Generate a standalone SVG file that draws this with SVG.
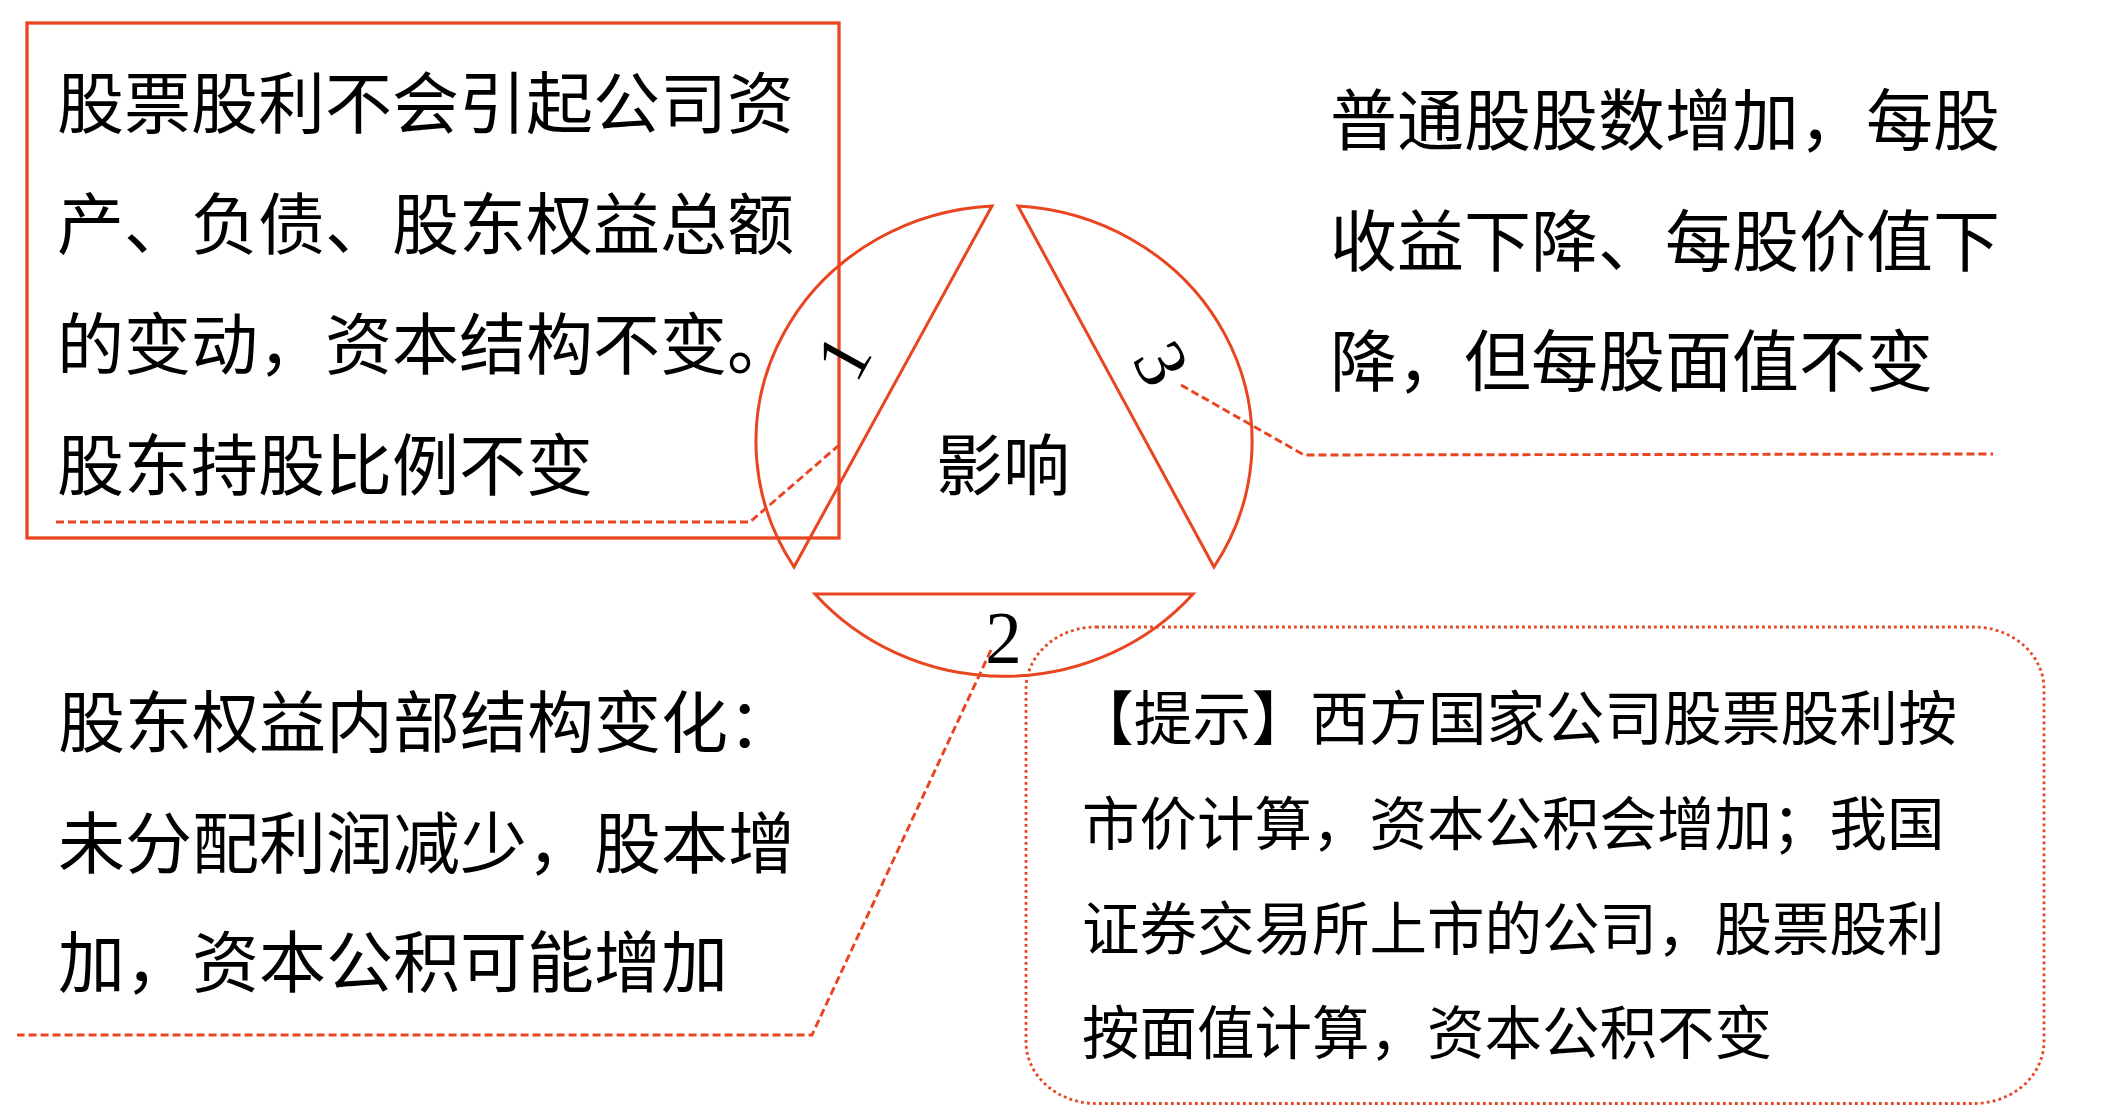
<svg xmlns="http://www.w3.org/2000/svg" width="2102" height="1116" viewBox="0 0 2102 1116">
  <style>
    .cn { font-family: "Noto Sans CJK SC", "Noto Sans", sans-serif; font-size: 67px; fill: #000; }
    .hint { font-family: "Noto Sans CJK SC", "Noto Sans", sans-serif; font-size: 57.5px; fill: #000; }
    .num { font-family: "Liberation Serif", "Times New Roman", serif; font-size: 73px; fill: #000; text-anchor: middle; }
    .seg { fill: none; stroke: #E84520; stroke-width: 3; stroke-linejoin: miter; }
    .box { fill: none; stroke: #E84520; stroke-width: 3.3; }
    .dash { fill: none; stroke: #E84520; stroke-width: 2.9; stroke-dasharray: 8 4; }
    .dot { fill: none; stroke: #E84520; stroke-width: 2.8; stroke-dasharray: 2.8 3.2; }
  </style>
  <rect width="2102" height="1116" fill="#ffffff"/>

  <g id="node-no-change">
    <rect class="box" x="27" y="23" width="812" height="515"/>
    <text class="cn" x="57" y="128">股票股利不会引起公司资</text>
    <text class="cn" x="57" y="248.5">产、负债、股东权益总额</text>
    <text class="cn" x="57" y="369">的变动，资本结构不变。</text>
    <text class="cn" x="57" y="489.5">股东持股比例不变</text>
  </g>

  <g id="node-impact">
    <text class="cn" x="1003" y="490" text-anchor="middle">影响</text>
  </g>

  <g id="segment-1">
    <path class="seg" d="M992,206 L794,567 A249,236 0 0 1 992,206 Z"/>
    <text class="num" transform="translate(843,357) rotate(-61)" x="0" y="25">1</text>
  </g>

  <g id="segment-2">
    <path class="seg" d="M815,594 L1193,594 A249,236 0 0 1 815,594 Z"/>
    <text class="num" x="1003.5" y="663">2</text>
  </g>

  <g id="segment-3">
    <path class="seg" d="M1018,206 L1214,567 A249,236 0 0 0 1018,206 Z"/>
    <text class="num" transform="translate(1162,363) rotate(61)" x="0" y="25">3</text>
  </g>

  <g id="node-per-share">
    <text class="cn" x="1330" y="145">普通股股数增加，每股</text>
    <text class="cn" x="1330" y="266">收益下降、每股价值下</text>
    <text class="cn" x="1330" y="386">降，但每股面值不变</text>
  </g>

  <g id="node-equity-structure">
    <text class="cn" x="58" y="747">股东权益内部结构变化：</text>
    <text class="cn" x="58" y="868">未分配利润减少，股本增</text>
    <text class="cn" x="58" y="987">加，资本公积可能增加</text>
  </g>

  <g id="node-hint">
    <rect class="dot" x="1026" y="627" width="1018" height="476.5" rx="70" ry="62"/>
    <text class="hint" x="1075" y="740" style="font-size:58.8px">【提示】西方国家公司股票股利按</text>
    <text class="hint" x="1082" y="845">市价计算，资本公积会增加；我国</text>
    <text class="hint" x="1082" y="950">证券交易所上市的公司，股票股利</text>
    <text class="hint" x="1082" y="1054">按面值计算，资本公积不变</text>
  </g>

  <g id="connectors">
    <path class="dash" d="M56,522 L750,522 L838,446"/>
    <path class="dash" d="M1181,385 L1304,455 L1993,454"/>
    <path class="dash" d="M991,650 L812,1035 L17,1035"/>
  </g>
</svg>
